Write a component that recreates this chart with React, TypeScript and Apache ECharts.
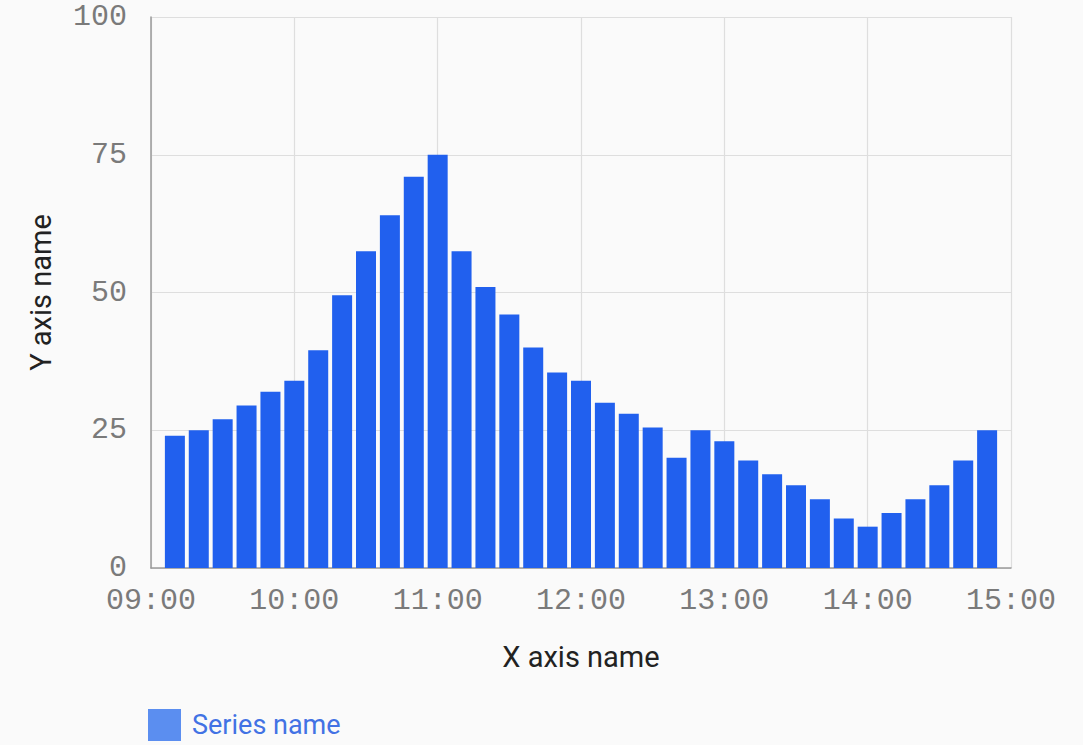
import React, { useEffect, useRef } from "react";
import * as echarts from "echarts";

const times = [
  "09:10", "09:20", "09:30", "09:40", "09:50", "10:00",
  "10:10", "10:20", "10:30", "10:40", "10:50", "11:00",
  "11:10", "11:20", "11:30", "11:40", "11:50", "12:00",
  "12:10", "12:20", "12:30", "12:40", "12:50", "13:00",
  "13:10", "13:20", "13:30", "13:40", "13:50", "14:00",
  "14:10", "14:20", "14:30", "14:40", "14:50",
];

const values = [
  24, 25, 27, 29.5, 32, 34,
  39.5, 49.5, 57.5, 64, 71, 75,
  57.5, 51, 46, 40, 35.5, 34,
  30, 28, 25.5, 20, 25, 23,
  19.5, 17, 15, 12.5, 9, 7.5,
  10, 12.5, 15, 19.5, 25,
];

const xTickLabels = ["09:00", "10:00", "11:00", "12:00", "13:00", "14:00", "15:00"];
const yTicks = [0, 25, 50, 75, 100];

const seriesName = "Series name";
const xAxisName = "X axis name";
const yAxisName = "Y axis name";

const toMinutes = (t: string) => {
  const [h, m] = t.split(":").map(Number);
  return h * 60 + m;
};
const startMin = toMinutes(xTickLabels[0]);
const endMin = toMinutes(xTickLabels[xTickLabels.length - 1]);
const pad = (n: number) => (n < 10 ? "0" + n : "" + n);

export default function App() {
  const ref = useRef<HTMLDivElement>(null);

  useEffect(() => {
    if (!ref.current) return;
    const chart = echarts.init(ref.current, undefined, { renderer: "svg" });
    const data = times.map((t, i) => [toMinutes(t), values[i]]);
    chart.setOption({
      animation: false,
      backgroundColor: "#fafafa",
      grid: { left: 151, right: 72, top: 17, bottom: 177, containLabel: false },
      legend: {
        left: 148,
        top: 709,
        padding: 0,
        itemWidth: 33,
        itemHeight: 32,
        icon: "rect",
        itemStyle: { color: "#5b8ef0" },
        textStyle: {
          color: "#4272e4",
          fontSize: 27,
          fontFamily: "Roboto",
          padding: [0, 0, 0, 6],
        },
        data: [seriesName],
      },
      xAxis: {
        type: "value",
        min: startMin,
        max: endMin,
        interval: 60,
        name: xAxisName,
        nameLocation: "middle",
        nameGap: 74,
        nameTextStyle: { color: "#222", fontSize: 29, fontFamily: "Roboto" },
        axisLine: { show: true, lineStyle: { color: "#9a9a9a", width: 1.5 } },
        axisTick: { show: false },
        axisLabel: {
          color: "#7a7a7a",
          fontSize: 30,
          fontFamily: "Liberation Mono",
          margin: 18,
          formatter: (v: number) => pad(Math.floor(v / 60)) + ":" + pad(v % 60),
        },
        splitLine: { show: true, lineStyle: { color: "#dedede", width: 1.2 } },
      },
      yAxis: {
        type: "value",
        min: yTicks[0],
        max: yTicks[yTicks.length - 1],
        interval: 25,
        name: yAxisName,
        nameLocation: "middle",
        nameGap: 96,
        nameRotate: 90,
        nameTextStyle: { color: "#222", fontSize: 29, fontFamily: "Roboto" },
        axisLine: { show: true, lineStyle: { color: "#9a9a9a", width: 1.5 } },
        axisTick: { show: false },
        axisLabel: {
          color: "#7a7a7a",
          fontSize: 30,
          fontFamily: "Liberation Mono",
          margin: 24,
        },
        splitLine: { show: true, lineStyle: { color: "#dedede", width: 1.2 } },
      },
      series: [
        {
          name: seriesName,
          type: "bar",
          barWidth: 20,
          itemStyle: { color: "#2160ee" },
          data,
        },
      ],
    });
    return () => chart.dispose();
  }, []);

  return (
    <div
      ref={ref}
      style={{ position: "fixed", left: 0, top: 0, width: 1083, height: 745 }}
    />
  );
}
